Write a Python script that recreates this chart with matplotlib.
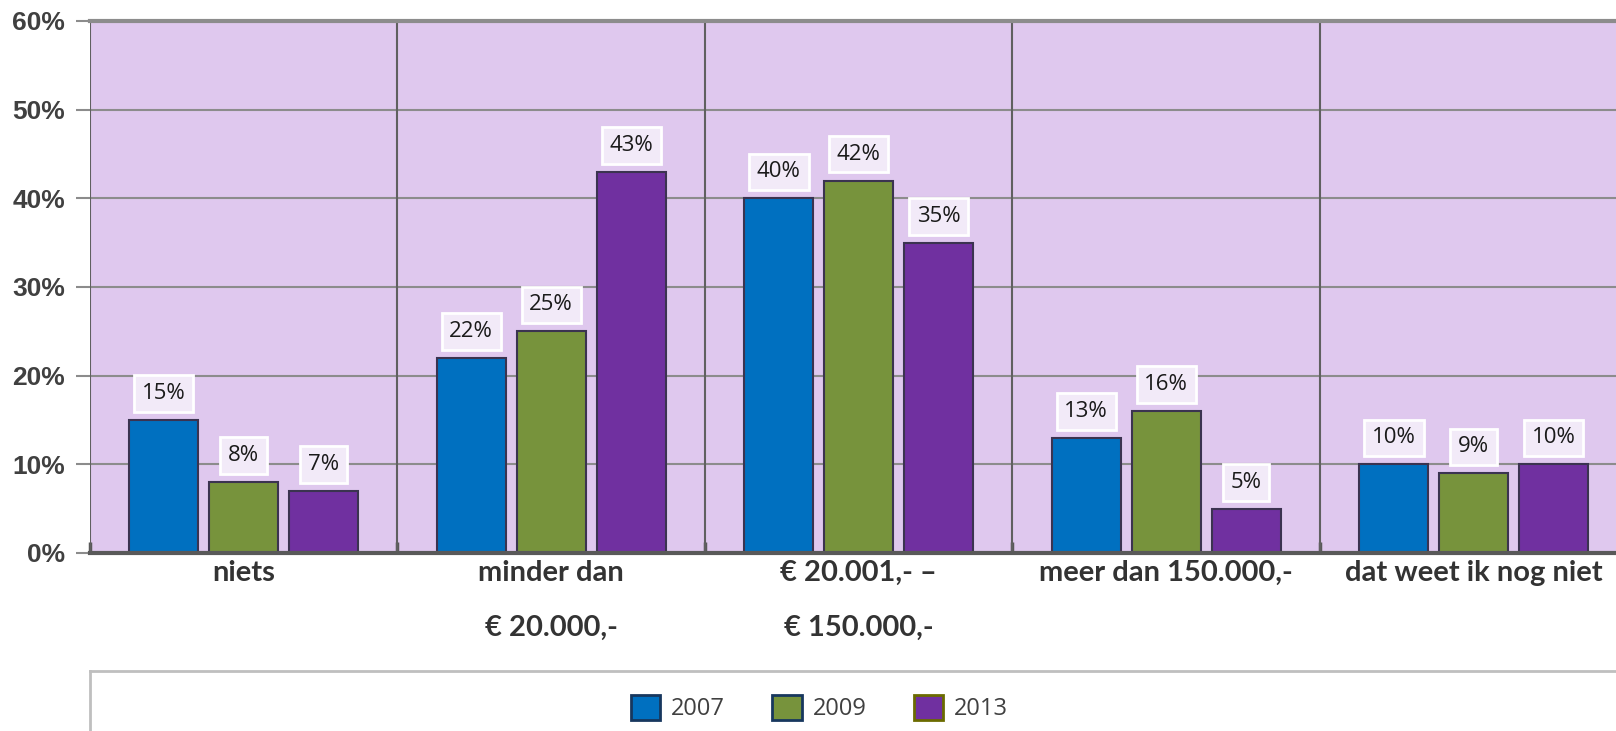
import matplotlib.pyplot as plt
import numpy as np
from matplotlib.lines import Line2D
from matplotlib.patches import Patch

categories = ['niets', 'minder dan\n€ 20.000,-', '€ 20.001,- –\n€ 150.000,-',
              'meer dan 150.000,-', 'dat weet ik nog niet']
years = ['2007', '2009', '2013']
v2007 = [15, 22, 40, 13, 10]
v2009 = [8, 25, 42, 16, 9]
v2013 = [7, 43, 35, 5, 10]
colors = ['#0070C0', '#77933C', '#7030A0']
yticks = [0, 10, 20, 30, 40, 50, 60]

W, H = 1616, 731
fig = plt.figure(figsize=(W / 100, H / 100), dpi=100)
left, bottom, top = 90 / W, 178 / H, 710 / H
ax = fig.add_axes([left, bottom, 1 - left, top - bottom])
ax.set_facecolor('#DFC8EE')

x = np.arange(len(categories))
width = 0.224
offs = 0.26
series = [v2007, v2009, v2013]
for i, (vals, c) in enumerate(zip(series, colors)):
    bars = ax.bar(x + (i - 1) * offs, vals, width, color=c, edgecolor='#3B3350',
                  linewidth=1.5, zorder=3)
    for b, v in zip(bars, vals):
        ax.annotate(f'{v}%', (b.get_x() + b.get_width() / 2, v), xytext=(0, 19),
                    textcoords='offset points', ha='center', va='center',
                    fontsize=16, family='Open Sans', color='#1a1a1a', zorder=5,
                    bbox=dict(boxstyle='square,pad=0.35', fc='#F2EAF8', ec='white', lw=2))

xmax = -0.5 + (W - 90) / 307.5
ax.set_xlim(-0.5, xmax)
ax.set_ylim(0, 60)

ax.set_yticks(yticks)
ax.set_yticklabels([f'{t}%' for t in yticks], fontsize=19, fontweight='bold',
                   family=['Liberation Sans Narrow', 'Liberation Sans'], color='#404040')
ax.yaxis.grid(True, color='#8C8C8C', lw=1.5, zorder=1)
ax.tick_params(axis='y', length=10, width=1.5, color='#8C8C8C', pad=8)

for b in np.arange(-0.5, xmax, 1.0):
    ax.axvline(b, color='#606060', lw=1.5, zorder=2)

ax.set_xticks(x)
ax.set_xticklabels(categories, fontsize=21, fontweight='bold', family='Lato',
                   color='#333333', linespacing=2.4)
ax.tick_params(axis='x', length=0, pad=5)
ax.set_xticks(np.arange(-0.5, xmax, 1.0), minor=True)
ax.tick_params(axis='x', which='minor', direction='in', length=8, width=2.5, color='#595959')

for s in ['left', 'right']:
    ax.spines[s].set_visible(False)
ax.spines['bottom'].set_color('#595959')
ax.spines['bottom'].set_linewidth(3)
ax.spines['bottom'].set_zorder(4)
ax.spines['top'].set_color('#8C8C8C')
ax.spines['top'].set_linewidth(3)

# legend frame
fig.add_artist(Line2D([left, 1], [1 - 671 / H, 1 - 671 / H], color='#BFBFBF', lw=2))
fig.add_artist(Line2D([left, left], [0, 1 - 671 / H], color='#BFBFBF', lw=2))
handles = [Patch(facecolor=c, edgecolor=e, lw=2)
           for c, e in zip(colors, ['#17375E', '#17375E', '#6B6B00'])]
leg = fig.legend(handles, years, loc='center', bbox_to_anchor=(0.507, 1 - 708 / H), ncol=3,
                 frameon=False, handlelength=1.25, handleheight=1.25,
                 columnspacing=2.0, handletextpad=0.45,
                 prop={'family': 'Open Sans', 'size': 17})
for t in leg.get_texts():
    t.set_color('#404040')

fig.savefig('out.png', dpi=100)
